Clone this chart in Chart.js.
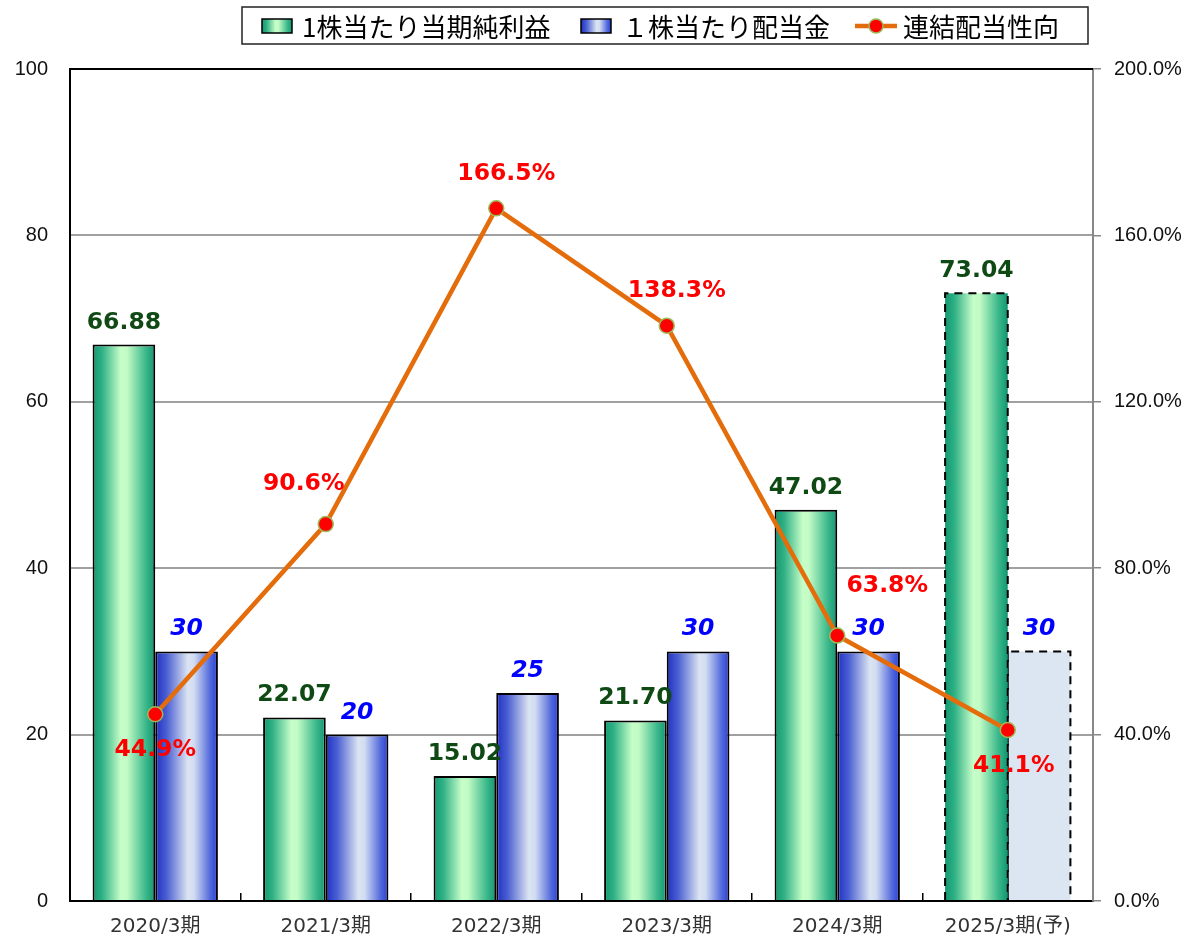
<!DOCTYPE html>
<html>
<head>
<meta charset="utf-8">
<script src="https://cdn.jsdelivr.net/npm/chart.js@4.4.1/dist/chart.umd.min.js"></script>
<style>
  html, body { margin: 0; padding: 0; background: #fff; }
</style>
</head>
<body>
<canvas id="chart" width="1184" height="939"></canvas>
<script>
// --- data ---
const categories = ['2020/3期', '2021/3期', '2022/3期', '2023/3期', '2024/3期', '2025/3期(予)'];
const epsValues = [66.88, 22.07, 15.02, 21.70, 47.02, 73.04];
const dividendValues = [30, 20, 25, 30, 30, 30];
const payoutRatio = [44.9, 90.6, 166.5, 138.3, 63.8, 41.1];
const seriesNames = ['1株当たり当期純利益', '１株当たり配当金', '連結配当性向'];
const forecastIndex = 5;

// --- styles ---
const CAT_PCT = 0.735;
const GREEN_STOPS = [[0, '#13996f'], [0.15, '#2fb085'], [0.45, '#c6fec8'], [0.55, '#c2fbc5'], [0.85, '#3bb88b'], [1, '#119570']];
const BLUE_STOPS = [[0, '#2030c4'], [0.18, '#4a5fd2'], [0.52, '#dbe4f2'], [0.62, '#d2dcf2'], [0.88, '#5068dc'], [1, '#2a3ed4']];
const JP_FONT = "'Noto Sans CJK JP', 'DejaVu Sans', sans-serif";
const AXIS_FONT = "'DejaVu Sans', 'Noto Sans CJK JP', sans-serif";
const NUM_FONT = "'Liberation Sans', Arial, sans-serif";
const LABEL_FONT = "'DejaVu Sans', Verdana, sans-serif";
const LABEL_SIZE = 23.5;

function makeGradient(ctx, left, width, stops) {
    const g = ctx.createLinearGradient(left, 0, left + width, 0);
    stops.forEach(s => g.addColorStop(s[0], s[1]));
    return g;
}

function barFill(side, stops) {
    return function (context) {
        const chart = context.chart;
        const x = chart.scales && chart.scales.x;
        if (!x || context.dataIndex === undefined) return stops[2][1];
        if (side === 1 && context.dataIndex === forecastIndex) return '#dce6f2';
        const c = x.getPixelForValue(context.dataIndex);
        const w = x.width / categories.length * CAT_PCT / 2;
        if (!isFinite(c) || !isFinite(w) || w <= 0) return stops[2][1];
        const left = side === 0 ? c - w : c;
        return makeGradient(chart.ctx, left, w, stops);
    };
}

// percent label offsets from each point (dx, dy)
const pctOffsets = [[0, 36], [-22, -40], [10, -34], [10, -35], [50, -50], [6, 36]];

const labelPlugin = {
    id: 'labels',
    afterDatasetDraw(chart, args) {
        // dashed outline for forecast bars
        if (args.index > 1) return;
        const bar = args.meta.data[forecastIndex];
        if (!bar) return;
        const ctx = chart.ctx;
        const left = bar.x - bar.width / 2, right = bar.x + bar.width / 2;
        ctx.save();
        ctx.strokeStyle = '#000';
        ctx.lineWidth = 2;
        ctx.setLineDash([8, 6]);
        ctx.beginPath();
        ctx.moveTo(left, bar.base);
        ctx.lineTo(left, bar.y);
        ctx.lineTo(right, bar.y);
        ctx.lineTo(right, bar.base);
        ctx.stroke();
        ctx.restore();
    },
    afterDatasetsDraw(chart) {
        const ctx = chart.ctx;
        ctx.save();
        ctx.textAlign = 'center';
        ctx.textBaseline = 'alphabetic';

        // EPS labels
        ctx.font = 'bold ' + LABEL_SIZE + 'px ' + LABEL_FONT;
        ctx.fillStyle = '#0f4a14';
        chart.getDatasetMeta(0).data.forEach((bar, i) => {
            ctx.fillText(epsValues[i].toFixed(2), bar.x, bar.y - 16);
        });

        // dividend labels
        ctx.font = 'italic bold ' + LABEL_SIZE + 'px ' + LABEL_FONT;
        ctx.fillStyle = '#0000ff';
        chart.getDatasetMeta(1).data.forEach((bar, i) => {
            ctx.fillText(String(dividendValues[i]), bar.x, bar.y - 16);
        });

        // payout ratio labels
        ctx.font = 'bold ' + LABEL_SIZE + 'px ' + LABEL_FONT;
        ctx.fillStyle = '#ff0000';
        ctx.textBaseline = 'middle';
        chart.getDatasetMeta(2).data.forEach((pt, i) => {
            const o = pctOffsets[i];
            ctx.fillText(payoutRatio[i].toFixed(1) + '%', pt.x + o[0], pt.y + o[1]);
        });

        // top frame line
        const a = chart.chartArea;
        ctx.strokeStyle = '#000';
        ctx.lineWidth = 2;
        ctx.beginPath();
        ctx.moveTo(a.left - 1, a.top);
        ctx.lineTo(a.right, a.top);
        ctx.stroke();
        ctx.restore();
    },
    afterDraw(chart) {
        // legend box
        const ctx = chart.ctx;
        ctx.save();
        ctx.strokeStyle = '#222';
        ctx.lineWidth = 1.5;
        ctx.strokeRect(242, 7, 846, 37);

        const cy = 26;
        ctx.font = '26px ' + JP_FONT;
        ctx.textBaseline = 'middle';
        ctx.textAlign = 'left';

        // green box
        ctx.fillStyle = makeGradient(ctx, 262, 30, GREEN_STOPS);
        ctx.fillRect(262, 19, 30, 14);
        ctx.strokeStyle = '#000';
        ctx.lineWidth = 1.5;
        ctx.strokeRect(262, 19, 30, 14);
        ctx.fillStyle = '#000';
        ctx.fillText(seriesNames[0], 302, cy + 1);

        // blue box
        ctx.fillStyle = makeGradient(ctx, 581, 30, BLUE_STOPS);
        ctx.fillRect(581, 19, 30, 14);
        ctx.strokeRect(581, 19, 30, 14);
        ctx.fillStyle = '#000';
        ctx.fillText(seriesNames[1], 622, cy + 1);

        // line + point
        ctx.strokeStyle = '#e46c0a';
        ctx.lineWidth = 4.5;
        ctx.beginPath();
        ctx.moveTo(855, cy);
        ctx.lineTo(897, cy);
        ctx.stroke();
        ctx.beginPath();
        ctx.arc(876, cy, 7, 0, Math.PI * 2);
        ctx.fillStyle = '#ff0000';
        ctx.fill();
        ctx.strokeStyle = '#9bbb59';
        ctx.lineWidth = 1.5;
        ctx.stroke();
        ctx.fillStyle = '#000';
        ctx.fillText(seriesNames[2], 903, cy + 1);
        ctx.restore();
    }
};

const chart = new Chart(document.getElementById('chart'), {
    data: {
        labels: categories,
        datasets: [
            {
                type: 'bar',
                label: seriesNames[0],
                data: epsValues,
                yAxisID: 'y',
                order: 1,
                backgroundColor: barFill(0, GREEN_STOPS),
                borderColor: '#000',
                borderWidth: ctx => ctx.dataIndex === forecastIndex ? 0 : 2,
                barPercentage: 1,
                categoryPercentage: CAT_PCT
            },
            {
                type: 'bar',
                label: seriesNames[1],
                data: dividendValues,
                yAxisID: 'y',
                order: 1,
                backgroundColor: barFill(1, BLUE_STOPS),
                borderColor: '#000',
                borderWidth: ctx => ctx.dataIndex === forecastIndex ? 0 : 2,
                barPercentage: 1,
                categoryPercentage: CAT_PCT
            },
            {
                type: 'line',
                label: seriesNames[2],
                data: payoutRatio,
                yAxisID: 'y2',
                order: 0,
                borderColor: '#e46c0a',
                borderWidth: 4.5,
                tension: 0,
                pointRadius: 7.5,
                pointBackgroundColor: '#ff0000',
                pointBorderColor: '#9bbb59',
                pointBorderWidth: 1.5
            }
        ]
    },
    options: {
        responsive: false,
        devicePixelRatio: 1,
        animation: false,
        events: [],
        layout: { padding: { top: 69, left: 0, right: 0, bottom: 0 } },
        plugins: {
            legend: { display: false },
            tooltip: { enabled: false }
        },
        scales: {
            x: {
                offset: true,
                grid: {
                    offset: true,
                    drawOnChartArea: false,
                    drawTicks: true,
                    tickLength: -8,
                    color: '#000',
                    lineWidth: 1.5
                },
                border: { color: '#000', width: 2 },
                ticks: {
                    color: '#333',
                    font: { family: AXIS_FONT, size: 20 },
                    padding: 22
                },
                afterFit: s => { s.height = 38; }
            },
            y: {
                position: 'left',
                min: 0,
                max: 100,
                ticks: {
                    stepSize: 20,
                    color: '#111',
                    font: { family: NUM_FONT, size: 20 },
                    padding: 22
                },
                grid: { color: '#a0a0a0', lineWidth: 2, drawTicks: false },
                border: { color: '#000', width: 2 },
                afterFit: s => { s.width = 70; }
            },
            y2: {
                position: 'right',
                min: 0,
                max: 200,
                ticks: {
                    stepSize: 40,
                    color: '#111',
                    font: { family: NUM_FONT, size: 20 },
                    padding: 13,
                    callback: v => v.toFixed(1) + '%'
                },
                grid: {
                    drawOnChartArea: false,
                    drawTicks: true,
                    tickLength: 8,
                    color: '#888',
                    lineWidth: 1.5
                },
                border: { color: '#888', width: 2 },
                afterFit: s => { s.width = 91; }
            }
        }
    },
    plugins: [labelPlugin]
});
</script>
</body>
</html>
